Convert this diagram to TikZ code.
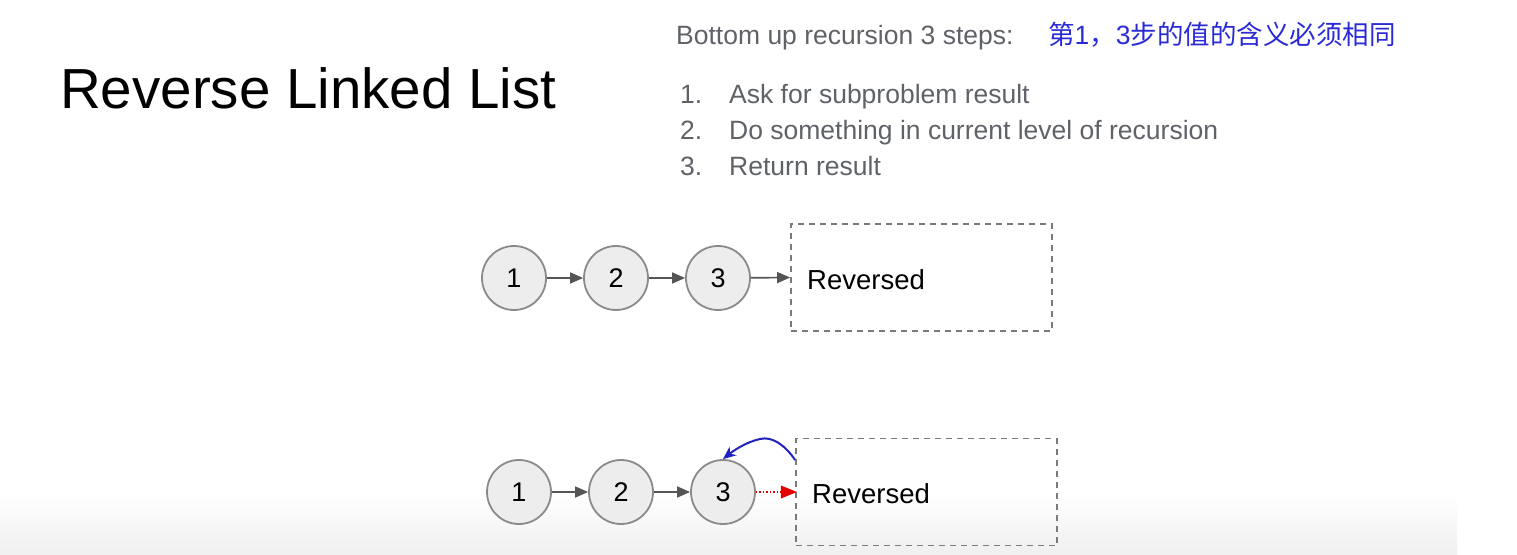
\documentclass[tikz,border=0pt]{standalone}
\usepackage{fontspec}
\setmainfont{Liberation Sans}
\newfontfamily\cjk{Noto Sans CJK SC}
\usetikzlibrary{arrows.meta}
\definecolor{txtgray}{HTML}{5F6368}
\definecolor{cnblue}{HTML}{2B2BD6}
\definecolor{circfill}{HTML}{EDEDED}
\definecolor{circline}{HTML}{8A8A8A}
\definecolor{arrgray}{HTML}{555555}
\definecolor{boxgray}{HTML}{7A7A7A}
\definecolor{curveblue}{HTML}{2222C0}
\tikzset{
  listnode/.style={circle, draw=circline, fill=circfill, line width=1.8pt, minimum size=64pt, inner sep=0pt, font=\fontsize{27}{30}\selectfont},
  nextarrow/.style={draw=arrgray, line width=1.7pt, -{Triangle[length=13pt,width=11pt]}},
  revbox/.style={draw=boxgray, dashed, dash pattern=on 6pt off 5pt, line width=1.8pt, minimum width=261pt, minimum height=107pt, inner sep=0pt},
  revtext/.style={anchor=base west, font=\fontsize{27.5}{32}\selectfont, inner sep=0pt},
  steptext/.style={anchor=base west, text=txtgray, font=\fontsize{26.5}{30}\selectfont, inner sep=0pt},
}
\begin{document}
\begin{tikzpicture}[x=1pt,y=-1pt]
\useasboundingbox (0,0) rectangle (1517,554);
\fill[white] (0,0) rectangle (1517,554);
\shade[top color=white, bottom color=black!6] (0,492) rectangle (1457,554);

% title
\node[anchor=base west, inner sep=0pt, font=\fontsize{56.5}{60}\selectfont] (title) at (60,108) {Reverse Linked List};

% header
\node[steptext] (hdr) at (676,44) {Bottom up recursion 3 steps:};
\node[anchor=base west, inner sep=0pt, text=cnblue, font=\fontsize{26.5}{30}\selectfont] (cn) at (1048,44) {{\cjk 第}1{\cjk ，}3{\cjk 步的值的含义必须相同}};
\node[steptext] (n1) at (680,103) {1.};
\node[steptext] (s1) at (729,103) {Ask for subproblem result};
\node[steptext] (n2) at (680,139) {2.};
\node[steptext] (s2) at (729,139) {Do something in current level of recursion};
\node[steptext] (n3) at (680,175) {3.};
\node[steptext] (s3) at (729,175) {Return result};

% top row
\node[listnode] (a1) at (514,278) {1};
\node[listnode] (a2) at (616,278) {2};
\node[listnode] (a3) at (718,278) {3};
\node[revbox] (abox) at (921.5,277.5) {};
\node[revtext] (atext) at (807,289) {Reversed};
\draw[nextarrow] (a1) -- (a2);
\draw[nextarrow] (a2) -- (a3);
\draw[nextarrow] (a3) -- (abox.west);

% bottom row
\node[listnode] (b1) at (519,492) {1};
\node[listnode] (b2) at (621,492) {2};
\node[listnode] (b3) at (723,492) {3};
\node[revbox] (bbox) at (926.5,492) {};
\node[revtext] (btext) at (812,503) {Reversed};
\draw[nextarrow] (b1) -- (b2);
\draw[nextarrow] (b2) -- (b3);
\draw[red!85!black, dotted, line width=1.5pt] (b3.east) -- ++(25,0) coordinate (rtip);
\fill[red!90!black] (rtip) ++(0,-6.5) -- ++(16,6.5) -- ++(-16,6.5) -- cycle;
\coordinate (bstart) at (bbox.west |- 0,460);
\draw[curveblue, line width=2pt, -{Stealth[length=13pt,width=11pt]}]
  (bstart) .. controls (785,445) and (772,436) .. (760,439)
  .. controls (746,442) and (733,451) .. (b3.north);
\end{tikzpicture}
\end{document}
